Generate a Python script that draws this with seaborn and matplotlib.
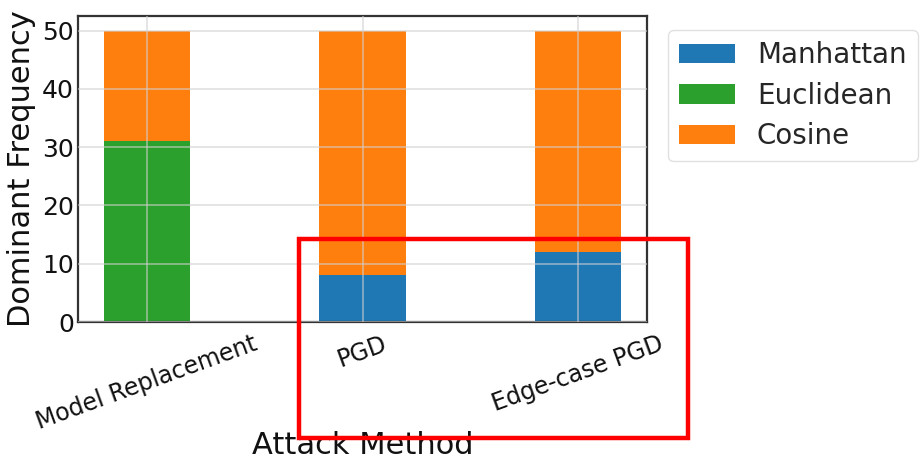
import matplotlib
matplotlib.use("Agg")
import matplotlib.pyplot as plt
from matplotlib.patches import Patch, Rectangle
import numpy as np
import pandas as pd
import seaborn as sns

# Attack methods and per-metric dominant frequency counts
methods = ["Model Replacement", "PGD", "Edge-case PGD"]
manhattan = [0, 8, 12]
euclidean = [31, 0, 0]
cosine = [19, 42, 38]

colors = {"Manhattan": "#1f77b4", "Euclidean": "#2ca02c", "Cosine": "#ff7f0e"}

sns.set_theme(style="white")
plt.rcParams["font.family"] = ["DejaVu Sans"]

fig = plt.figure(figsize=(9.22, 4.62), dpi=100)
ax = fig.add_axes([78 / 922, 1 - 322 / 462, (647 - 78) / 922, (322 - 16) / 462])

# Stacked bars drawn as cumulative layers, tallest first
m = np.array(manhattan)
e = np.array(euclidean)
c = np.array(cosine)
layers = [
    ("Cosine", m + e + c),
    ("Euclidean", m + e),
    ("Manhattan", m),
]
for name, heights in layers:
    df = pd.DataFrame({"method": methods, "value": heights})
    sns.barplot(data=df, x="method", y="value", color=colors[name],
                width=0.4, linewidth=0, saturation=1, ax=ax)

ax.set_xlim(-0.32, 2.32)
ax.set_ylim(0, 52.5)
ax.set_yticks([0, 10, 20, 30, 40, 50])
ax.set_axisbelow(False)
ax.grid(True, color="#cfcfcf", alpha=0.7, linewidth=1.1)

for s in ax.spines.values():
    s.set_visible(True)
    s.set_color("#333333")
    s.set_linewidth(1.6)

ax.tick_params(axis="both", length=0, labelsize=17, colors="#111111")
ax.tick_params(axis="y", pad=3, labelsize=18)
ax.tick_params(axis="x", pad=7)
for lbl in ax.get_xticklabels():
    lbl.set_rotation(20)
    lbl.set_ha("center")

ax.set_ylabel("Dominant Frequency", fontsize=22, color="#111111", labelpad=4)
ax.set_xlabel("Attack Method", fontsize=22, color="#111111", labelpad=-2)

handles = [Patch(facecolor=colors[k], edgecolor="none", label=k)
           for k in ["Manhattan", "Euclidean", "Cosine"]]
fig.legend(handles=handles, loc="upper left",
           bbox_to_anchor=(668 / 922, 1 - 30 / 462), borderaxespad=0,
           fontsize=20, frameon=True, framealpha=0.8, edgecolor="0.85",
           labelspacing=0.45, handletextpad=0.8, borderpad=0.4)

# Highlight box around the PGD-based attacks
fig.patches.append(Rectangle((299 / 922, 1 - 438 / 462), 389 / 922, 199 / 462,
                             transform=fig.transFigure, fill=False,
                             edgecolor="#ff0000", linewidth=3.2, zorder=10))

fig.savefig("out.png", dpi=100)
